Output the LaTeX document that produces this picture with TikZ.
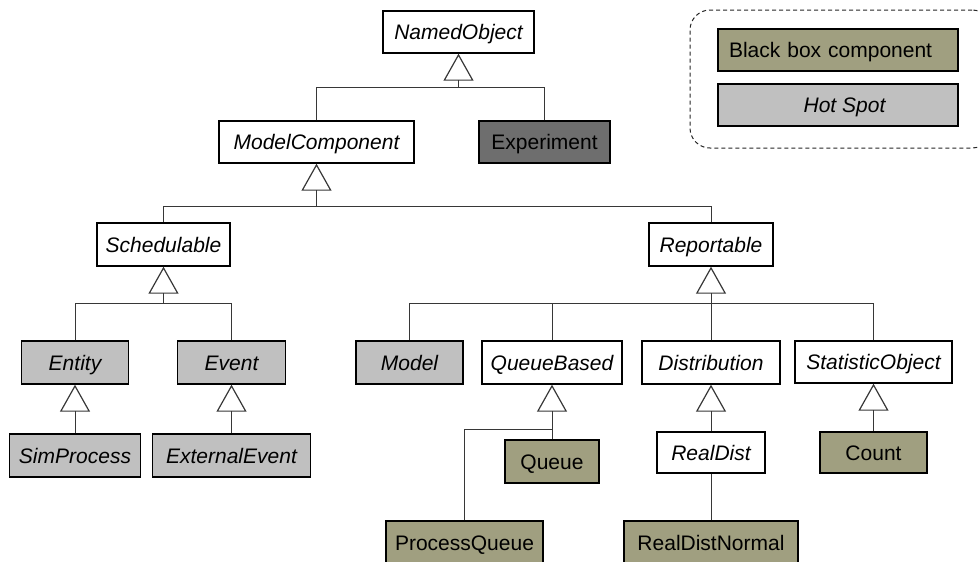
\documentclass[tikz,border=0pt]{standalone}
\usepackage{fontspec}
\setmainfont{Liberation Sans}
\usetikzlibrary{arrows.meta}
\definecolor{olivebox}{RGB}{160,159,128}
\definecolor{hotgray}{RGB}{192,192,192}
\definecolor{expgray}{RGB}{110,110,110}
\definecolor{wiregray}{RGB}{55,55,55}
\newcommand\diagfont{\fontsize{21}{25}\selectfont}
\tikzset{
  cls/.style={draw=black, line width=1.4pt, inner sep=0pt, minimum height=42pt,
    text height=15pt, text depth=0pt, font=\diagfont, text=black},
  abstractcls/.style={cls, fill=white, font=\diagfont\itshape},
  hotspot/.style={cls, fill=hotgray, font=\diagfont\itshape},
  blackbox/.style={cls, fill=olivebox},
  darkcls/.style={cls, fill=expgray},
  conn/.style={draw=wiregray, line width=1pt},
  inherit/.style={conn, -{Triangle[open, length=27pt, width=30pt, line width=1.2pt]}},
  legendframe/.style={draw=black!85, dashed, dash pattern=on 4pt off 3pt,
    line width=1pt, rounded corners=20pt, inner sep=0pt}
}
\begin{document}
\begin{tikzpicture}[x=1pt, y=-1pt]
\useasboundingbox (0,0) rectangle (978,562);

% legend
\node[legendframe, minimum width=302pt, minimum height=138pt] (legend) at (841,79) {};
\node[blackbox, minimum width=240pt, text width=218pt, align=left] (lgBlack) at (838,50) {Black box component};
\node[hotspot, minimum width=240pt] (lgHot) at (838,105) {\hspace{13pt}Hot Spot};

% classes
\node[abstractcls, minimum width=151pt] (NamedObject) at (458.5,32) {NamedObject};
\node[abstractcls, minimum width=195pt] (ModelComponent) at (316.5,142) {ModelComponent};
\node[darkcls, minimum width=131pt] (Experiment) at (544.5,142) {Experiment};

\node[abstractcls, minimum width=133pt, minimum height=43pt] (Schedulable) at (163.5,244.5) {Schedulable};
\node[abstractcls, minimum width=124pt, minimum height=43pt] (Reportable) at (711,244.5) {Reportable};

\node[hotspot, minimum width=107pt, minimum height=43pt] (Entity) at (75,362.5) {Entity};
\node[hotspot, minimum width=108pt, minimum height=43pt] (Event) at (231.5,362.5) {Event};
\node[hotspot, minimum width=107pt, minimum height=43pt] (Model) at (409.5,362.5) {Model};
\node[abstractcls, minimum width=140pt, minimum height=43pt] (QueueBased) at (552,362.5) {QueueBased};
\node[abstractcls, minimum width=138pt, minimum height=43pt] (Distribution) at (711,362.5) {Distribution};
\node[abstractcls, minimum width=157pt, minimum height=42pt] (StatisticObject) at (873.5,362) {StatisticObject};

\node[hotspot, minimum width=131pt, minimum height=43pt] (SimProcess) at (75,455.5) {SimProcess};
\node[hotspot, minimum width=158pt, minimum height=43pt] (ExternalEvent) at (231.5,455.5) {ExternalEvent};
\node[blackbox, minimum width=94pt, minimum height=43pt] (Queue) at (552,461.5) {Queue};
\node[abstractcls, minimum width=108pt, minimum height=41pt] (RealDist) at (711,452.5) {RealDist};
\node[blackbox, minimum width=107pt, minimum height=41pt] (Count) at (873.5,452.5) {Count};

\node[blackbox, minimum width=157pt, minimum height=43pt] (ProcessQueue) at (464.5,542.5) {ProcessQueue};
\node[blackbox, minimum width=174pt, minimum height=43pt] (RealDistNormal) at (711,542.5) {RealDistNormal};

% junction points of the generalisation trees
\coordinate (jNamed) at (458.5,87);
\coordinate (jModelComp) at (316.5,206);
\coordinate (jSched) at (163.5,303);
\coordinate (jReport) at (711,303);
\coordinate (jQueue) at (552,429);

% generalisations: one hollow triangle per parent, branches join below it
\draw[inherit] (ModelComponent.north) |- (jNamed) -- (NamedObject.south);
\draw[conn] (Experiment.north) |- (jNamed);

\draw[inherit] (Schedulable.north) |- (jModelComp) -- (ModelComponent.south);
\draw[conn] (Reportable.north) |- (jModelComp);

\draw[inherit] (Entity.north) |- (jSched) -- (Schedulable.south);
\draw[conn] (Event.north) |- (jSched);

\draw[inherit] (Distribution.north) -- (Reportable.south);
\draw[conn] (Model.north) |- (jReport);
\draw[conn] (QueueBased.north) |- (jReport);
\draw[conn] (StatisticObject.north) |- (jReport);

\draw[inherit] (SimProcess.north) -- (Entity.south);
\draw[inherit] (ExternalEvent.north) -- (Event.south);

\draw[inherit] (Queue.north) -- (QueueBased.south);
\draw[conn] (ProcessQueue.north) |- (jQueue);

\draw[inherit] (RealDist.north) -- (Distribution.south);
\draw[inherit] (Count.north) -- (StatisticObject.south);

\draw[conn] (RealDistNormal.north) -- (RealDist.south);
\end{tikzpicture}
\end{document}
